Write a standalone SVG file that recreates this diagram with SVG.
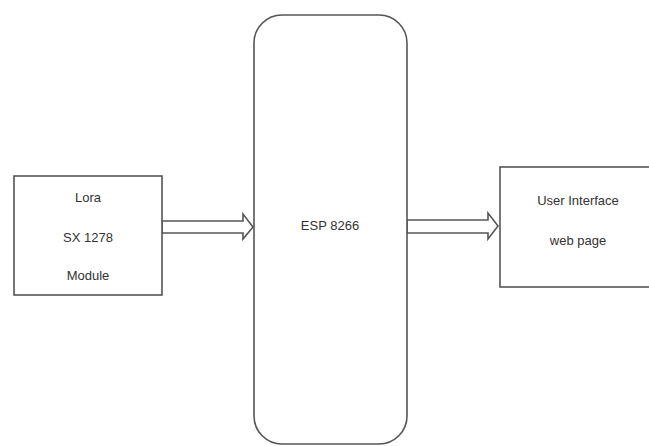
<svg xmlns="http://www.w3.org/2000/svg" width="649" height="446" viewBox="0 0 649 446">
<style>
.box{fill:#ffffff;stroke:#555555;stroke-width:1.6}
.arrow{fill:#ffffff;stroke:#555555;stroke-width:1.6;stroke-linejoin:miter}
.lbl{font-family:"Liberation Sans",Arial,sans-serif;font-size:13px;fill:#333333;text-anchor:middle;dominant-baseline:central}
</style>
<rect width="649" height="446" fill="#ffffff"/>
<g id="connectors">
<path class="arrow" d="M162,221 H243 V214 L253,227 L243,239 V233 H162 Z"/>
<path class="arrow" d="M407,220 H488 V213 L498,226 L488,239 V233 H407 Z"/>
</g>
<g id="lora">
<rect class="box" x="14" y="176" width="148" height="119"/>
<text class="lbl" x="88" y="197">Lora</text>
<text class="lbl" x="88" y="237">SX 1278</text>
<text class="lbl" x="88" y="275">Module</text>
</g>
<g id="esp">
<rect class="box" x="254" y="15" width="153" height="429" rx="28" ry="28"/>
<text class="lbl" x="330" y="225">ESP 8266</text>
</g>
<g id="ui">
<rect class="box" x="500" y="167" width="160" height="120"/>
<text class="lbl" x="578" y="200">User Interface</text>
<text class="lbl" x="578" y="240">web page</text>
</g>
</svg>
